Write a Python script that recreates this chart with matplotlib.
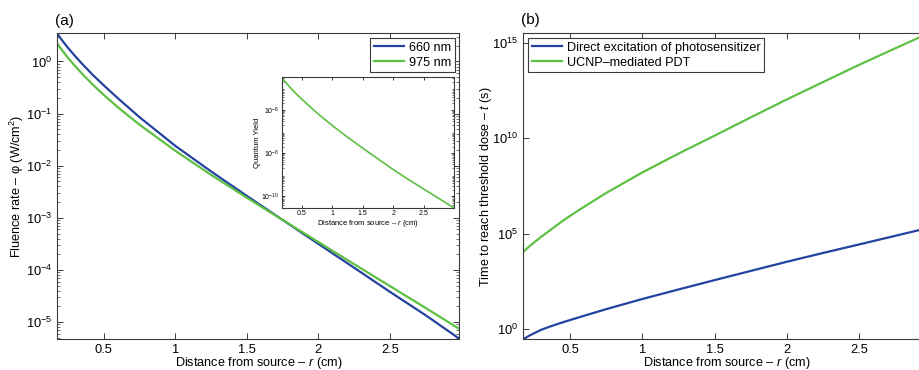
import numpy as np
import matplotlib
matplotlib.use("Agg")
from matplotlib import pyplot as plt
from matplotlib.ticker import LogLocator, NullFormatter, NullLocator

plt.rcParams['font.family'] = ['Liberation Sans', 'DejaVu Sans']
plt.rcParams['mathtext.fontset'] = 'custom'
plt.rcParams['mathtext.rm'] = 'Liberation Sans'
plt.rcParams['mathtext.it'] = 'Liberation Sans:italic'

# distance from source (cm)
r = [0.175, 0.21, 0.25, 0.3, 0.35, 0.42, 0.5, 0.6, 0.75, 1.0, 1.25, 1.5, 1.75,
     2.0, 2.25, 2.5, 2.75, 2.985]

# (a) fluence rate (W/cm^2)
phi_660 = [3.39, 2.51, 1.82, 1.26, 0.89, 0.562, 0.347, 0.195, 0.0851, 0.024,
           7.76e-3, 2.63e-3, 9.1e-4, 3.16e-4, 1.10e-4, 3.8e-5, 1.35e-5, 4.8e-6]
phi_975 = [2.19, 1.62, 1.17, 0.81, 0.575, 0.366, 0.227, 0.131, 0.0611, 0.0193,
           6.67e-3, 2.43e-3, 9.1e-4, 3.43e-4, 1.29e-4, 4.9e-5, 1.86e-5, 7.4e-6]

# inset: quantum yield
r_qy = [0.167, 0.21, 0.25, 0.3, 0.35, 0.42, 0.5, 0.6, 0.75, 1.0, 1.25, 1.5, 1.75,
        2.0, 2.25, 2.5, 2.75, 2.997]
qy = [3.24e-5, 2.29e-5, 1.70e-5, 1.17e-5, 8.3e-6, 5.2e-6, 3.16e-6, 1.74e-6, 7.2e-7,
      1.9e-7, 5.5e-8, 1.7e-8, 5.4e-9, 1.74e-9, 6.0e-10, 2.2e-10, 7.9e-11, 2.9e-11]

# (b) time to reach threshold dose (s)
t_direct = [0.30, 0.44, 0.63, 0.955, 1.32, 2.0, 3.1, 5.25, 11.5, 39, 123, 380, 1150,
            3470, 1.0e4, 2.8e4, 7.9e4, 2.1e5]
t_ucnp = [1.15e4, 2.0e4, 3.55e4, 7.1e4, 1.35e5, 3.4e5, 8.9e5, 2.75e6, 1.4e7, 1.66e8,
          1.6e9, 1.4e10, 1.26e11, 1.1e12, 8.9e12, 7.1e13, 5.2e14, 3.3e15]

blue = '#2443a0'
green = '#5ec043'
spine_col = '#3a3a3a'


def style(ax, fs=9.3, minor=True):
    ax.set_yscale('log')
    for s in ax.spines.values():
        s.set_color(spine_col)
        s.set_linewidth(0.8)
    ax.tick_params(which='both', direction='in', top=True, right=True,
                   colors=spine_col, labelcolor='black', labelsize=fs)
    ax.tick_params(which='major', length=4, width=0.7)
    ax.tick_params(which='minor', length=2, width=0.5)
    if minor:
        ax.yaxis.set_minor_locator(LogLocator(base=10, subs=np.arange(2, 10), numticks=50))
        ax.yaxis.set_minor_formatter(NullFormatter())
    else:
        ax.yaxis.set_minor_locator(NullLocator())


def legend_box(ax, loc):
    leg = ax.legend(loc=loc, fontsize=9.1, handlelength=2.4,
                    borderaxespad=0.35, borderpad=0.3, labelspacing=0.25,
                    fancybox=False, framealpha=1, handletextpad=0.4)
    leg.get_frame().set_edgecolor(spine_col)
    leg.get_frame().set_linewidth(0.8)


fig = plt.figure(figsize=(9.2, 3.7), dpi=100)

xlab = 'Distance from source – $r$ (cm)'

# panel (a)
ax1 = fig.add_axes([0.0623, 0.083, 0.437, 0.827])
ax1.plot(r, phi_660, color=blue, lw=1.6, label='660 nm')
ax1.plot(r, phi_975, color=green, lw=1.6, label='975 nm')
style(ax1)
ax1.set_xlim(0.175, 2.985)
ax1.set_ylim(10 ** -5.33, 10 ** 0.54)
ax1.set_xticks([0.5, 1, 1.5, 2, 2.5])
ax1.set_xticklabels(['0.5', '1', '1.5', '2', '2.5'])
ax1.set_yticks([1e-5, 1e-4, 1e-3, 1e-2, 1e-1, 1])
ax1.set_xlabel(xlab, fontsize=9.1, labelpad=-0.5)
ax1.set_ylabel('Fluence rate – φ (W/cm$^2$)', fontsize=9.1)
ax1.yaxis.set_label_coords(-0.078, 0.5)
legend_box(ax1, 'upper right')

# inset
axi = fig.add_axes([0.306, 0.437, 0.1876, 0.354])
axi.plot(r_qy, qy, color=green, lw=1.2)
style(axi, fs=5)
axi.set_xlim(0.167, 2.997)
axi.set_ylim(10 ** -10.55, 10 ** -4.49)
axi.set_xticks([0.5, 1, 1.5, 2, 2.5])
axi.set_xticklabels(['0.5', '1', '1.5', '2', '2.5'])
axi.set_yticks([1e-10, 1e-8, 1e-6])
axi.tick_params(which='major', length=2.5, pad=1.5)
axi.tick_params(which='minor', length=1.2)
axi.set_xlabel(xlab, fontsize=5.5, labelpad=0.5)
axi.set_ylabel('Quantum Yield', fontsize=5.5)
axi.yaxis.set_label_coords(-0.12, 0.5)

# panel (b)
ax2 = fig.add_axes([0.5688, 0.083, 0.4413, 0.827])
ax2.plot(r, t_direct, color=blue, lw=1.6, label='Direct excitation of photosensitizer')
ax2.plot(r, t_ucnp, color=green, lw=1.6, label='UCNP–mediated PDT')
style(ax2, minor=False)
ax2.set_xlim(0.175, 2.985)
ax2.set_ylim(10 ** -0.52, 10 ** 15.5)
ax2.set_xticks([0.5, 1, 1.5, 2, 2.5])
ax2.set_xticklabels(['0.5', '1', '1.5', '2', '2.5'])
ax2.set_yticks([1, 1e5, 1e10, 1e15])
ax2.set_xlabel(xlab, fontsize=9.1, labelpad=-0.5)
ax2.set_ylabel('Time to reach threshold dose – $t$ (s)', fontsize=9.1)
ax2.yaxis.set_label_coords(-0.073, 0.5)
legend_box(ax2, 'upper left')

fig.text(55 / 920, 1 - 21 / 370, '(a)', fontsize=11, va='center', ha='left')
fig.text(521 / 920, 1 - 20 / 370, '(b)', fontsize=11, va='center', ha='left')

fig.savefig('out.png', dpi=100)
